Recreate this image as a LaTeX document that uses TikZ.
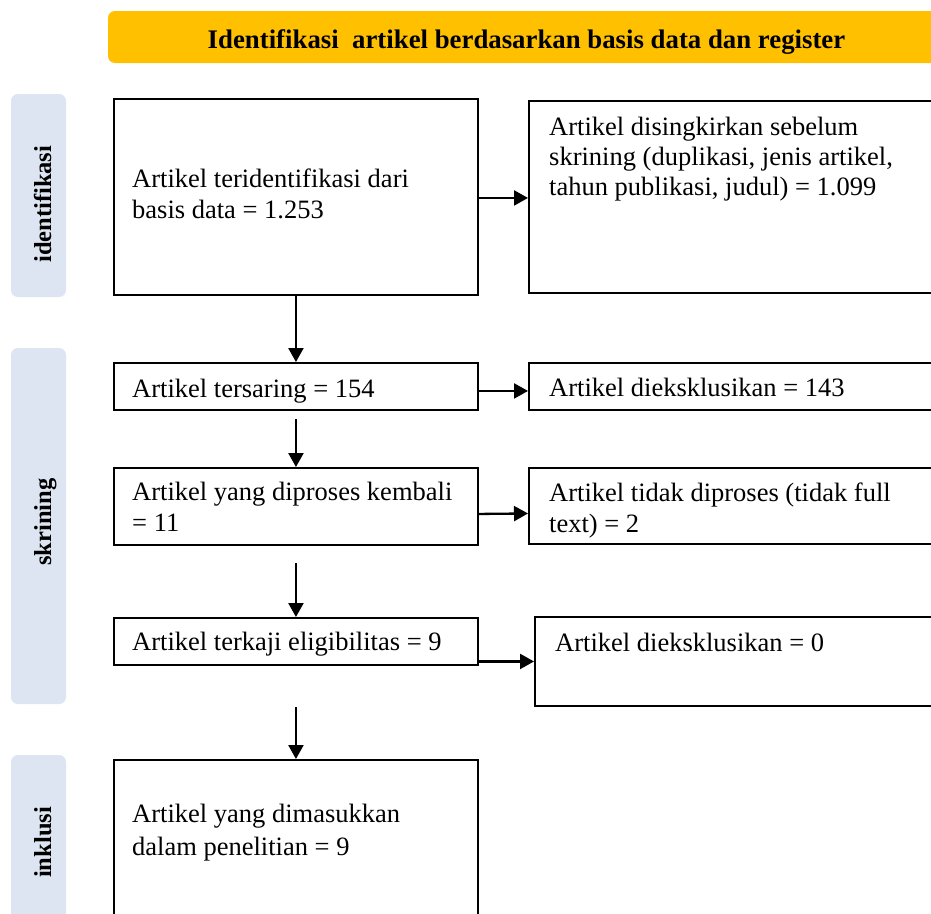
\documentclass[tikz,border=0pt]{standalone}
\usepackage{fontspec}
\setmainfont{Liberation Serif}
\usetikzlibrary{arrows.meta}
\definecolor{bannergold}{HTML}{FFC000}
\definecolor{sidebar}{HTML}{DCE5F1}
\tikzset{
  boxnode/.style={draw=black, line width=1.9pt, rectangle, inner sep=0pt, anchor=north west},
  txt/.style={anchor=base west, inner sep=0pt, font=\fontsize{26.5}{30}\selectfont},
  sidelabel/.style={anchor=base west, rotate=90, inner sep=0pt, font=\fontsize{24.5}{28}\selectfont\bfseries},
  arr/.style={line width=2.3pt, -{Triangle[length=14pt,width=15pt]}},
}
\begin{document}
\begin{tikzpicture}[x=1pt,y=-1pt]
\clip (0,0) rectangle (931,913);
\fill[white] (0,0) rectangle (931,913);
% banner
\fill[bannergold, rounded corners=7pt] (108,11) rectangle (960,63);
\node[anchor=base, inner sep=0pt, font=\fontsize{26.8}{30}\selectfont\bfseries] (title) at (526.5,48) {Identifikasi\ \ artikel berdasarkan basis data dan register};
% side bars
\fill[sidebar, rounded corners=7pt] (11,94) rectangle (66,297);
\fill[sidebar, rounded corners=7pt] (11,348) rectangle (66,704);
\fill[sidebar, rounded corners=7pt] (11,755) rectangle (66,960);
\node[sidelabel] (l1) at (51,263) {identifikasi};
\node[sidelabel] (l2) at (51,566) {skrining};
\node[sidelabel] (l3) at (51,878) {inklusi};
% boxes
\node[boxnode, minimum width=364pt, minimum height=196pt] (b1) at (113,98) {};
\node[boxnode, minimum width=420pt, minimum height=192pt] (b2) at (528,100) {};
\node[boxnode, minimum width=364pt, minimum height=47pt] (b3) at (113,362) {};
\node[boxnode, minimum width=420pt, minimum height=47pt] (b4) at (528,362) {};
\node[boxnode, minimum width=364pt, minimum height=77pt] (b5) at (113,467) {};
\node[boxnode, minimum width=420pt, minimum height=76pt] (b6) at (528,467) {};
\node[boxnode, minimum width=364pt, minimum height=47pt] (b7) at (113,617) {};
\node[boxnode, minimum width=420pt, minimum height=89pt] (b8) at (534,616) {};
\node[boxnode, minimum width=364pt, minimum height=200pt] (b9) at (113,759) {};
% texts
\node[txt] (t1a) at (132,187) {Artikel teridentifikasi dari};
\node[txt] (t1b) at (132,218) {basis data = 1.253};
\node[txt] (t2a) at (549,135) {Artikel disingkirkan sebelum};
\node[txt] (t2b) at (549,165) {skrining (duplikasi, jenis artikel,};
\node[txt] (t2c) at (549,195) {tahun publikasi, judul) = 1.099};
\node[txt] (t3) at (132,397) {Artikel tersaring = 154};
\node[txt] (t4) at (549,396) {Artikel dieksklusikan = 143};
\node[txt] (t5a) at (132,500) {Artikel yang diproses kembali};
\node[txt] (t5b) at (132,531) {= 11};
\node[txt] (t6a) at (549,501) {Artikel tidak diproses (tidak full};
\node[txt] (t6b) at (549,532) {text) = 2};
\node[txt] (t7) at (132,650) {Artikel terkaji eligibilitas = 9};
\node[txt] (t8) at (555,651) {Artikel dieksklusikan = 0};
\node[txt] (t9a) at (132,822) {Artikel yang dimasukkan};
\node[txt] (t9b) at (132,855) {dalam penelitian = 9};
% connectors
\draw[arr] ([yshift=-1pt]b1.east) -- ([yshift=-1pt]b2.west);
\draw[arr] (b1.south) -- (b3.north);
\draw[arr] ([yshift=-4.5pt]b3.east) -- ([yshift=-4.5pt]b4.west);
\draw[arr] ([yshift=-8pt]b3.south) -- (b5.north);
\draw[arr] ([yshift=-7.5pt]b5.east) -- ([yshift=-7.5pt]b6.west);
\draw[arr] ([yshift=-17pt]b5.south) -- (b7.north);
\draw[arr] (b7.east |- b8.west) -- (b8.west);
\draw[arr] ([yshift=-41pt]b7.south) -- (b9.north);
\end{tikzpicture}
\end{document}
